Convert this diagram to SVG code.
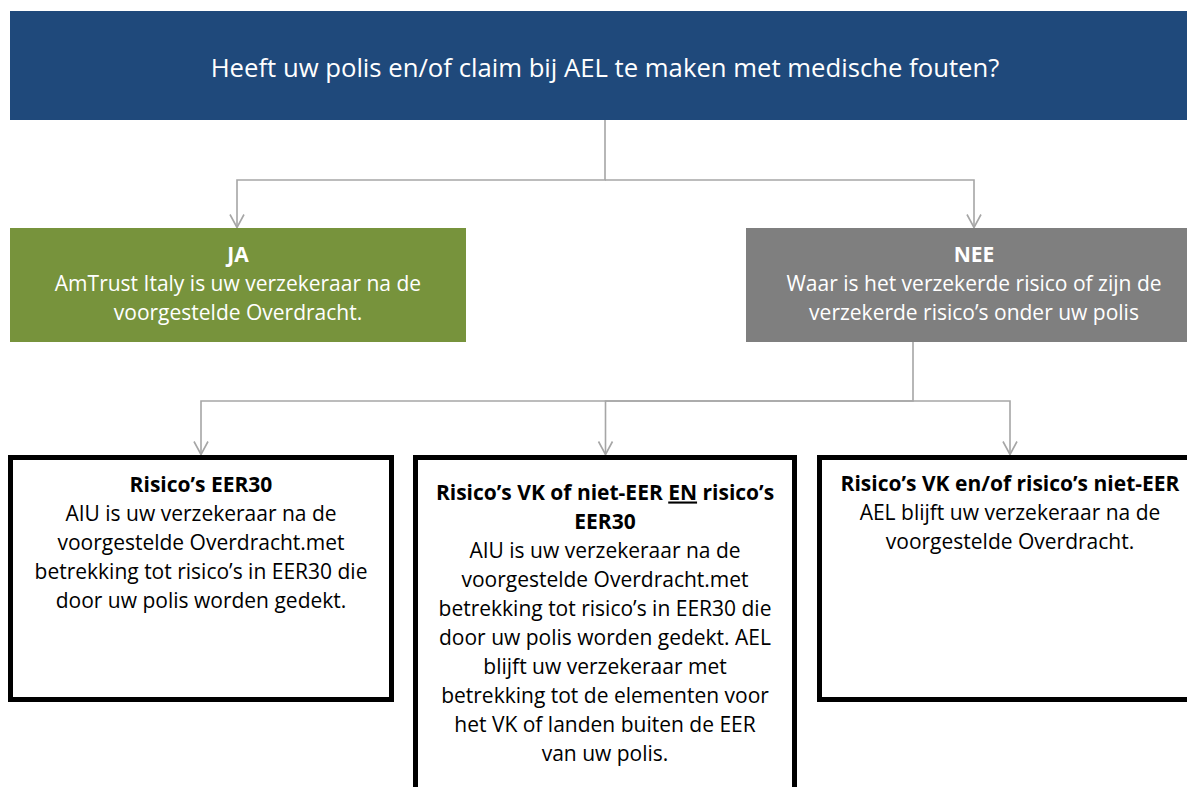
<svg xmlns="http://www.w3.org/2000/svg" width="1187" height="787" viewBox="0 0 1187 787">
<style>
.t{font-family:"Open Sans","Noto Sans","Liberation Sans",sans-serif;font-size:21px;text-anchor:middle}
.w{fill:#ffffff}
.k{fill:#000000}
.b{font-weight:bold}
.title{font-size:25.7px}
.conn{fill:none;stroke:#A6A6A6;stroke-width:1.6}
.box{fill:#ffffff;stroke:#000000;stroke-width:5}
</style>
<defs>
<marker id="arr" markerUnits="userSpaceOnUse" markerWidth="20" markerHeight="20" refX="0" refY="0" orient="auto" overflow="visible">
<path d="M -13 -7 L 0 0 L -13 7" fill="none" stroke="#A6A6A6" stroke-width="1.6"/>
</marker>
</defs>
<rect width="1187" height="787" fill="#ffffff"/>
<g id="connectors">
<path class="conn" d="M605 120 V180 H237 V227.5" marker-end="url(#arr)"/>
<path class="conn" d="M605 180 H974 V227.5" marker-end="url(#arr)"/>
<path class="conn" d="M913 342 V401 H201 V454.5" marker-end="url(#arr)"/>
<path class="conn" d="M913 401 H605.5 V454.5" marker-end="url(#arr)"/>
<path class="conn" d="M913 401 H1010 V454.5" marker-end="url(#arr)"/>
</g>
<g id="question">
<rect x="10" y="11" width="1190" height="109" fill="#1F497B"/>
<text class="t w title" x="605" y="77">Heeft uw polis en/of claim bij AEL te maken met medische fouten?</text>
</g>
<g id="ja">
<rect x="10" y="228" width="456" height="114" fill="#77933C"/>
<text class="t w" x="238" y="262"><tspan class="b">JA</tspan><tspan x="238" y="291">AmTrust Italy is uw verzekeraar na de</tspan><tspan x="238" y="320">voorgestelde Overdracht.</tspan></text>
</g>
<g id="nee">
<rect x="746" y="228" width="456" height="114" fill="#7F7F7F"/>
<text class="t w" x="974" y="262"><tspan class="b">NEE</tspan><tspan x="974" y="291">Waar is het verzekerde risico of zijn de</tspan><tspan x="974" y="320">verzekerde risico’s onder uw polis</tspan></text>
</g>
<g id="eer30">
<rect class="box" x="10.5" y="457.5" width="381" height="242"/>
<text class="t k" x="201" y="492"><tspan class="b">Risico’s EER30</tspan><tspan x="201" y="521">AIU is uw verzekeraar na de</tspan><tspan x="201" y="550">voorgestelde Overdracht.met</tspan><tspan x="201" y="579">betrekking tot risico’s in EER30 die</tspan><tspan x="201" y="608">door uw polis worden gedekt.</tspan></text>
</g>
<g id="beide">
<rect class="box" x="415.5" y="457.5" width="379" height="345"/>
<text class="t k" x="605" y="499.5"><tspan class="b">Risico’s VK of niet-EER <tspan text-decoration="underline">EN</tspan> risico’s</tspan><tspan class="b" x="605" y="528.5">EER30</tspan><tspan x="605" y="557.5">AIU is uw verzekeraar na de</tspan><tspan x="605" y="586.5">voorgestelde Overdracht.met</tspan><tspan x="605" y="615.5">betrekking tot risico’s in EER30 die</tspan><tspan x="605" y="644.5">door uw polis worden gedekt. AEL</tspan><tspan x="605" y="673.5">blijft uw verzekeraar met</tspan><tspan x="605" y="702.5">betrekking tot de elementen voor</tspan><tspan x="605" y="731.5">het VK of landen buiten de EER</tspan><tspan x="605" y="760.5">van uw polis.</tspan></text>
</g>
<g id="vk">
<rect class="box" x="819.5" y="457.5" width="381" height="242"/>
<text class="t k" x="1010" y="491"><tspan class="b">Risico’s VK en/of risico’s niet-EER</tspan><tspan x="1010" y="520">AEL blijft uw verzekeraar na de</tspan><tspan x="1010" y="549">voorgestelde Overdracht.</tspan></text>
</g>
</svg>
